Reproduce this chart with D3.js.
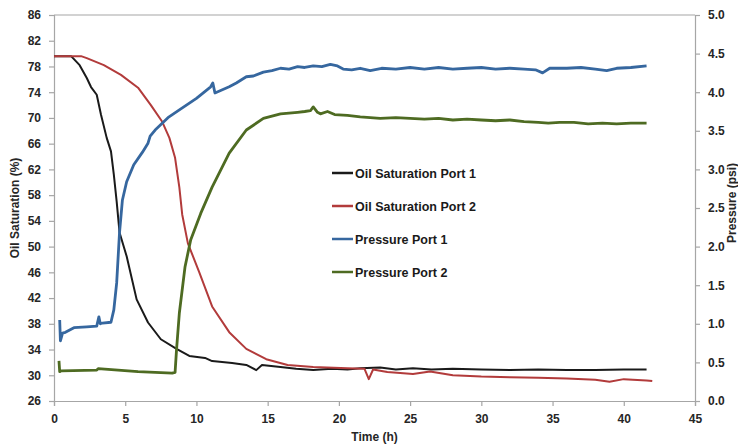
<!DOCTYPE html>
<html lang="en">
<head>
<meta charset="UTF-8">
<title>Oil saturation and pressure</title>
<script src="https://d3js.org/d3.v7.min.js"></script>
<style>
  body { margin: 0; background: #fff; }
  svg { display: block; font-family: "Liberation Sans", Arial, sans-serif; }
  .axis text { font-size: 12px; font-weight: bold; fill: #262626; }
  .axis path, .axis line { stroke: #a6a6a6; stroke-width: 1.2; }
  .title { font-size: 12px; font-weight: bold; fill: #262626; }
  .legend text { font-size: 12.5px; font-weight: bold; fill: #1a1a1a; }
</style>
</head>
<body>
<svg id="chart" width="738" height="446"></svg>
<script>
// time (h) and values
const oil1Time = [0, 1.2, 1.8, 2.3, 2.6, 3.0, 3.3, 3.7, 4.0, 4.2, 4.4, 4.6, 5.1, 5.8, 6.6, 7.5, 8.6, 9.5, 10.6, 11.1, 12.5, 13.5, 14.2, 14.6, 15.9, 17, 18.2, 19.5, 20.6, 21.5, 22.9, 24, 25.2, 26.5, 28, 30, 32, 34, 36, 38, 40, 41.6];
const oil1Sat = [79.6, 79.6, 78.2, 76.2, 74.8, 73.6, 70.5, 66.9, 64.8, 61.2, 57, 52.2, 48.5, 41.8, 38.2, 35.6, 34.1, 33.0, 32.7, 32.2, 31.9, 31.6, 30.8, 31.6, 31.3, 31.0, 30.8, 31.0, 30.9, 31.1, 31.2, 30.9, 31.1, 30.9, 31.0, 30.9, 30.8, 30.9, 30.8, 30.8, 30.9, 30.9];

const oil2Time = [0, 1.9, 2.3, 3.5, 4.7, 5.9, 6.8, 7.6, 8.1, 8.5, 8.8, 9.0, 9.4, 10.2, 11.1, 12.3, 13.5, 14.9, 16.4, 18.2, 20.6, 21.8, 22.1, 22.4, 23.4, 25.2, 26.4, 28, 30, 32, 34, 36, 38, 39, 40, 41.6, 42];
const oil2Sat = [79.6, 79.6, 79.3, 78.2, 76.7, 74.7, 72.0, 69.4, 66.9, 63.8, 59.2, 55.0, 50.5, 46.0, 40.7, 36.7, 34.1, 32.5, 31.6, 31.3, 31.1, 31.0, 29.4, 30.9, 30.5, 30.2, 30.6, 30.0, 29.8, 29.7, 29.6, 29.5, 29.3, 29.0, 29.4, 29.2, 29.1];

const p1Time = [0.4, 0.45, 0.6, 0.8, 1.4, 2.3, 3.0, 3.15, 3.25, 3.4, 4.0, 4.2, 4.4, 4.6, 4.8, 5.1, 5.6, 6.2, 6.6, 6.75, 7.1, 8.0, 8.8, 10.0, 11.0, 11.15, 11.3,
  12.3, 12.8, 13.5, 14.0, 14.7, 15.3, 15.9, 16.5, 17.1, 17.6, 18.2, 18.8, 19.4, 19.9, 20.3, 20.9, 21.5, 22.2, 23, 24, 25, 26, 27, 28, 29, 30, 31, 32, 33, 33.8, 34.3, 34.8, 36, 37, 38, 38.8, 39.5, 40.5, 41.6];
const p1Psi = [1.05, 0.78, 0.88, 0.89, 0.95, 0.96, 0.97, 1.09, 1.0, 1.01, 1.02, 1.18, 1.53, 2.18, 2.6, 2.84, 3.06, 3.22, 3.34, 3.43, 3.51, 3.67, 3.77, 3.92, 4.07, 4.12, 3.99,
  4.07, 4.12, 4.20, 4.21, 4.26, 4.28, 4.31, 4.30, 4.33, 4.32, 4.34, 4.33, 4.36, 4.34, 4.30, 4.29, 4.31, 4.28, 4.31, 4.30, 4.32, 4.30, 4.32, 4.30, 4.31, 4.32, 4.30, 4.31, 4.30, 4.29, 4.25, 4.31, 4.31, 4.32, 4.30, 4.28, 4.31, 4.32, 4.34];

const p2Time = [0.35, 0.4, 0.5, 3.0, 3.1, 5.9, 8.3, 8.5, 8.6, 8.8, 9.2, 9.6, 10.3, 11.1, 12.3, 13.5, 14.7,
  15.9, 16.5, 17.1, 17.6, 18.0, 18.2, 18.5, 18.7, 19.2, 19.7, 20.6, 21.5, 22.9, 24, 25, 26, 27, 28, 29, 30, 31, 32, 33, 34, 34.7, 35.5, 36.5, 37.5, 38.5, 39.5, 40.5, 41.6];
const p2Psi = [0.52, 0.38, 0.39, 0.40, 0.42, 0.38, 0.36, 0.37, 0.66, 1.14, 1.74, 2.09, 2.43, 2.77, 3.21, 3.51, 3.66,
  3.72, 3.73, 3.74, 3.75, 3.76, 3.81, 3.74, 3.72, 3.75, 3.71, 3.70, 3.68, 3.66, 3.67, 3.66, 3.65, 3.66, 3.64, 3.65, 3.64, 3.63, 3.64, 3.62, 3.61, 3.60, 3.61, 3.61, 3.59, 3.60, 3.59, 3.60, 3.60];

const seriesNames = ["Oil Saturation Port 1", "Oil Saturation Port 2", "Pressure Port 1", "Pressure Port 2"];
const seriesColors = ["#1a1a1a", "#b23b3b", "#36679f", "#4e6b22"];

const xTicks = d3.range(0, 46, 5);
const leftTicks = d3.range(26, 87, 4);
const rightTicks = d3.range(0, 5.01, 0.5);

const svg = d3.select("#chart");
const mLeft = 54, mRight = 695, mTop = 15, mBottom = 401;

const x = d3.scaleLinear().domain([0, 45]).range([mLeft, mRight]);
const yL = d3.scaleLinear().domain([26, 86]).range([mBottom, mTop]);
const yR = d3.scaleLinear().domain([0, 5]).range([mBottom, mTop]);

// top border
svg.append("line")
  .attr("x1", mLeft).attr("x2", mRight).attr("y1", mTop).attr("y2", mTop)
  .attr("stroke", "#a6a6a6").attr("stroke-width", 1.2);

svg.append("g").attr("class", "axis")
  .attr("transform", `translate(0,${mBottom})`)
  .call(d3.axisBottom(x).tickValues(xTicks).tickSize(5).tickPadding(8).tickFormat(d3.format("d")));

svg.append("g").attr("class", "axis")
  .attr("transform", `translate(${mLeft},0)`)
  .call(d3.axisLeft(yL).tickValues(leftTicks).tickSize(5).tickPadding(8).tickFormat(d3.format("d")));

svg.append("g").attr("class", "axis")
  .attr("transform", `translate(${mRight},0)`)
  .call(d3.axisRight(yR).tickValues(rightTicks).tickSize(5).tickPadding(8).tickFormat(d3.format(".1f")));

svg.selectAll(".axis .domain").attr("stroke", "#a6a6a6");

// axis titles
svg.append("text").attr("class", "title")
  .attr("x", (mLeft + mRight) / 2).attr("y", 441).attr("text-anchor", "middle")
  .text("Time (h)");
svg.append("text").attr("class", "title")
  .attr("transform", `translate(19,${(mTop + mBottom) / 2}) rotate(-90)`)
  .attr("text-anchor", "middle")
  .text("Oil Saturation (%)");
svg.append("text").attr("class", "title")
  .attr("transform", `translate(736,203) rotate(-90)`)
  .attr("text-anchor", "middle")
  .text("Pressure (psi)");

// lines
const series = [
  { t: oil1Time, v: oil1Sat, y: yL, w: 2 },
  { t: oil2Time, v: oil2Sat, y: yL, w: 2 },
  { t: p1Time, v: p1Psi, y: yR, w: 2.8 },
  { t: p2Time, v: p2Psi, y: yR, w: 2.8 }
];

series.forEach((s, i) => {
  const pts = s.t.map((t, j) => [t, s.v[j]]);
  const line = d3.line().x(d => x(d[0])).y(d => s.y(d[1]));
  svg.append("path")
    .datum(pts)
    .attr("fill", "none")
    .attr("stroke", seriesColors[i])
    .attr("stroke-width", s.w)
    .attr("stroke-linejoin", "round")
    .attr("d", line);
});

// legend
const legend = svg.append("g").attr("class", "legend");
seriesNames.forEach((name, i) => {
  const ly = 173 + i * 33;
  legend.append("line")
    .attr("x1", 332).attr("x2", 353).attr("y1", ly).attr("y2", ly)
    .attr("stroke", seriesColors[i]).attr("stroke-width", 2.5);
  legend.append("text")
    .attr("x", 355).attr("y", ly + 4.5)
    .text(name);
});
</script>
</body>
</html>
